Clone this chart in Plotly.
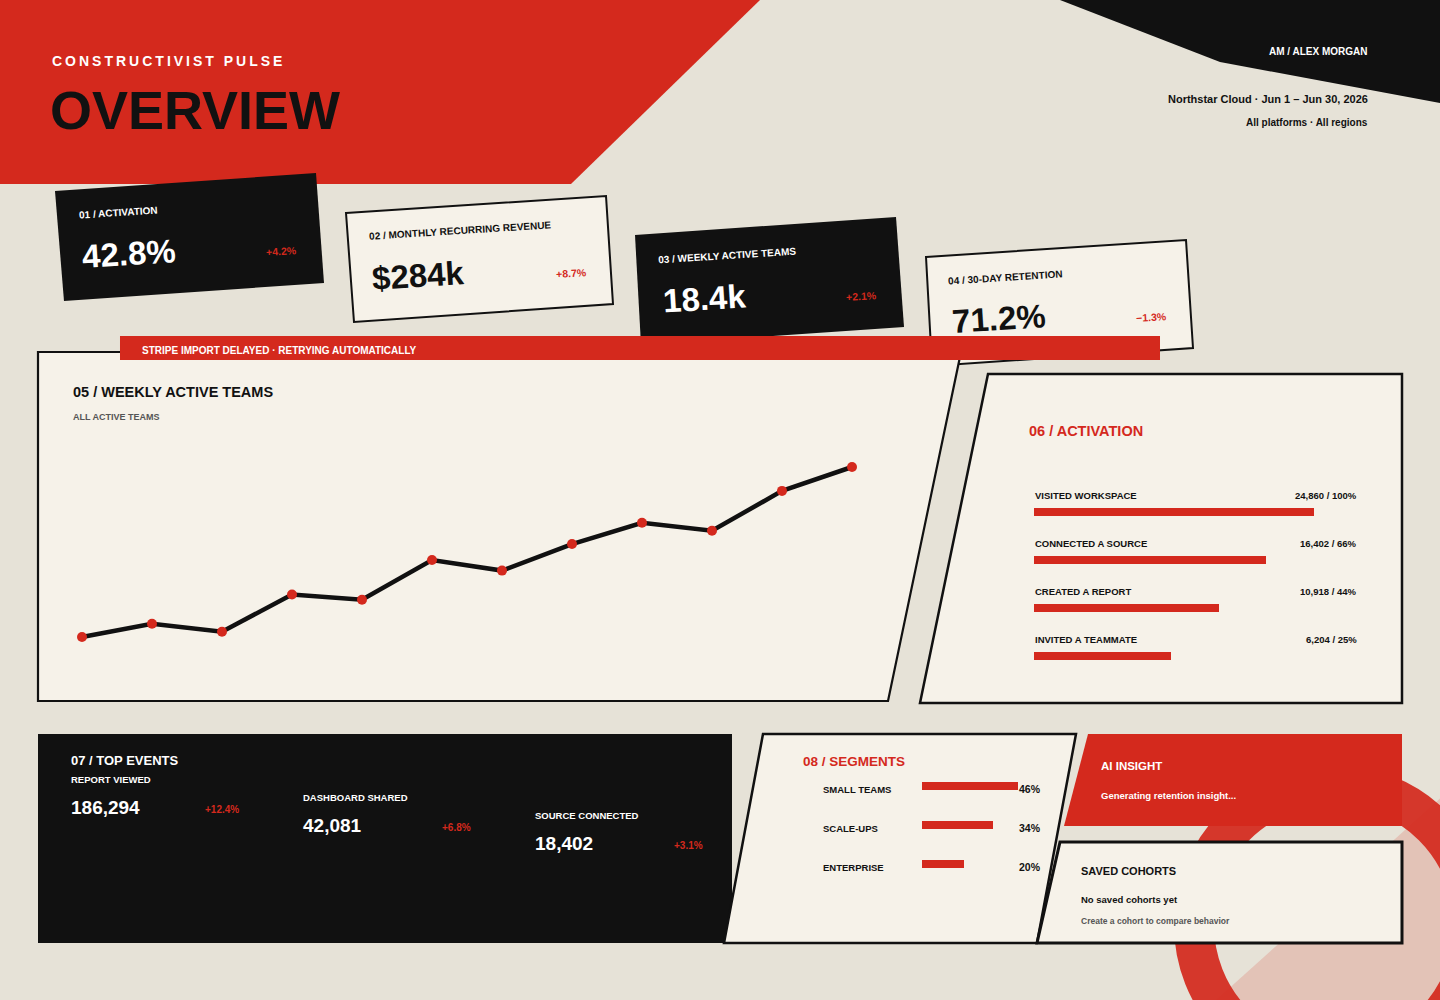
import plotly.graph_objects as go

# ---------------- data ----------------
weeks = ["W1", "W2", "W3", "W4", "W5", "W6", "W7", "W8", "W9", "W10", "W11", "W12"]
weekly_active_teams_k = [12.0, 12.5, 12.2, 13.6, 13.4, 14.9, 14.5, 15.5, 16.3, 16.0, 17.5, 18.4]

kpi_labels = ["01 / ACTIVATION", "02 / MONTHLY RECURRING REVENUE", "03 / WEEKLY ACTIVE TEAMS", "04 / 30-DAY RETENTION"]
kpi_values = ["42.8%", "$284k", "18.4k", "71.2%"]
kpi_deltas = ["+4.2%", "+8.7%", "+2.1%", "\u22121.3%"]

funnel_steps = ["VISITED WORKSPACE", "CONNECTED A SOURCE", "CREATED A REPORT", "INVITED A TEAMMATE"]
funnel_counts = ["24,860", "16,402", "10,918", "6,204"]
funnel_pcts = [100, 66, 44, 25]
funnel_bar_len = [100, 83, 66, 49]   # bar lengths as drawn (% of track)

event_names = ["REPORT VIEWED", "DASHBOARD SHARED", "SOURCE CONNECTED"]
event_counts = ["186,294", "42,081", "18,402"]
event_deltas = ["+12.4%", "+6.8%", "+3.1%"]

segments = ["SMALL TEAMS", "SCALE-UPS", "ENTERPRISE"]
segment_share = [46, 34, 20]

# ---------------- style ----------------
W, H = 1440, 1000
BG = "#E6E2D7"
CREAM = "#F6F2E9"
RED = "#D4291D"
BLACK = "#111111"
GRAY = "#555555"
FONT = "Liberation Sans, Arial, Helvetica, sans-serif"


def X(px):
    return px / W


def Y(py):
    return 1 - py / H


def poly(pts, fill, line_color=None, line_width=0, opacity=1):
    path = "M " + " L ".join(f"{X(x):.5f},{Y(y):.5f}" for x, y in pts) + " Z"
    return dict(type="path", path=path, xref="paper", yref="paper",
                fillcolor=fill, opacity=opacity, layer="below",
                line=dict(color=line_color or "rgba(0,0,0,0)", width=line_width))


def txt(x, y, s, size, color, anchor="left", angle=0, weight="bold"):
    return dict(x=X(x), y=Y(y), xref="paper", yref="paper", text=s, showarrow=False,
                xanchor=anchor, yanchor="middle", textangle=angle,
                font=dict(size=size, color=color, family=FONT, weight=weight))


shapes = []
ann = []

# decorative background: pink diagonal band + ring
shapes.append(poly([(1205, 1010), (1455, 785), (1700, 1000), (1450, 1250)], "rgba(212,42,30,0.17)"))
cx, cy, r_mid = 1334, 925, 140
shapes.append(dict(type="circle", xref="paper", yref="paper", layer="below",
                   x0=X(cx - r_mid), x1=X(cx + r_mid), y0=Y(cy + r_mid), y1=Y(cy - r_mid),
                   fillcolor="rgba(0,0,0,0)", opacity=0.92,
                   line=dict(color=RED, width=40)))

# header blocks
shapes.append(poly([(0, 0), (760, 0), (571, 184), (0, 184)], RED))
shapes.append(poly([(1060, 0), (1440, 0), (1440, 103), (1220, 62)], BLACK))

# KPI cards
cards = [
    dict(pts=[(55, 191), (316, 173), (324, 283), (64, 301)], dark=True,
         label=(77, 213), value=(79, 253), delta=(299, 251)),
    dict(pts=[(346, 213), (606, 196), (613, 304), (354, 322)], dark=False,
         label=(367, 231), value=(369, 275), delta=(589, 273)),
    dict(pts=[(635, 235), (896, 217), (904, 327), (641, 345)], dark=True,
         label=(656, 255), value=(660, 298), delta=(879, 296)),
    dict(pts=[(926, 257), (1186, 240), (1193, 348), (932, 366)], dark=False,
         label=(946, 277), value=(949, 318), delta=(1169, 317)),
]
for i, c in enumerate(cards):
    if c["dark"]:
        shapes.append(poly(c["pts"], BLACK))
        fg = "#FFFFFF"
    else:
        shapes.append(poly(c["pts"], CREAM, BLACK, 2))
        fg = BLACK
    ann.append(txt(*c["label"], kpi_labels[i], 10, fg, angle=-3.6))
    ann.append(txt(*c["value"], kpi_values[i], 33, fg, angle=-3.6))
    ann.append(txt(*c["delta"], kpi_deltas[i], 10.5, RED, anchor="right", angle=-3.6))

# main panels
shapes.append(poly([(38, 352), (961, 352), (888, 701), (38, 701)], CREAM, BLACK, 2.2))
shapes.append(poly([(988, 374), (1402, 374), (1402, 703), (920, 703)], CREAM, BLACK, 2.5))

# alert banner
shapes.append(poly([(120, 336), (1160, 336), (1160, 360), (120, 360)], RED))
ann.append(txt(140, 350, "STRIPE IMPORT DELAYED \u00b7 RETRYING AUTOMATICALLY", 10, "#FFFFFF"))

# bottom panels
shapes.append(poly([(38, 734), (732, 734), (732, 943), (38, 943)], BLACK))
shapes.append(poly([(763, 734), (1076, 734), (1037, 943), (724, 943)], CREAM, BLACK, 2.5))
shapes.append(poly([(1088, 734), (1402, 734), (1402, 826), (1064, 826)], RED))
shapes.append(poly([(1060, 842), (1402, 842), (1402, 943), (1037, 943)], CREAM, BLACK, 3))

# header text (letter-spaced title is widened symmetrically by the post script,
# so its anchor sits half the added spacing to the right)
ann.append(txt(80, 61, "CONSTRUCTIVIST PULSE", 14, "#FFFFFF"))
ann.append(txt(48, 110, "OVERVIEW", 54, BLACK, weight=900))
ann.append(txt(1370, 51, "AM / ALEX MORGAN", 10, "#FFFFFF", anchor="right"))
ann.append(txt(1370, 99, "Northstar Cloud \u00b7 Jun 1 \u2013 Jun 30, 2026", 11, BLACK, anchor="right"))
ann.append(txt(1370, 122, "All platforms \u00b7 All regions", 10, BLACK, anchor="right"))

# panel 05
ann.append(txt(71, 392, "05 / WEEKLY ACTIVE TEAMS", 14.5, BLACK))
ann.append(txt(71, 417, "ALL ACTIVE TEAMS", 9, GRAY))

# panel 06
ann.append(txt(1027, 431, "06 / ACTIVATION", 14.5, RED))
for i, step in enumerate(funnel_steps):
    yy = 495 + 48 * i
    ann.append(txt(1033, yy, step, 9.5, BLACK))
    ann.append(txt(1359, yy, f"{funnel_counts[i]} / {funnel_pcts[i]}%", 9.5, BLACK, anchor="right"))

# panel 07
ann.append(txt(69, 760, "07 / TOP EVENTS", 13, "#FFFFFF"))
for i, name in enumerate(event_names):
    x0 = 69 + 232 * i
    y0 = 779 + 18 * i
    ann.append(txt(x0, y0, name, 9.5, "#FFFFFF"))
    ann.append(txt(x0, y0 + 28, event_counts[i], 19, "#FFFFFF"))
    ann.append(txt(x0 + 172, y0 + 30, event_deltas[i], 10, RED, anchor="right"))

# panel 08
ann.append(txt(801, 761, "08 / SEGMENTS", 13.5, RED))
for i, seg in enumerate(segments):
    yy = 789 + 39 * i
    ann.append(txt(821, yy, seg, 9.5, BLACK))
    ann.append(txt(1043, yy, f"{segment_share[i]}%", 10.5, BLACK, anchor="right"))

# AI insight + saved cohorts
ann.append(txt(1099, 766, "AI INSIGHT", 11.5, "#FFFFFF"))
ann.append(txt(1099, 795, "Generating retention insight...", 9.5, "#FFFFFF"))
ann.append(txt(1079, 871, "SAVED COHORTS", 11, BLACK))
ann.append(txt(1079, 899, "No saved cohorts yet", 9.5, BLACK))
ann.append(txt(1079, 921, "Create a cohort to compare behavior", 8.5, GRAY))

# ---------------- traces ----------------
fig = go.Figure()

fig.add_trace(go.Scatter(
    x=list(range(len(weeks))), y=weekly_active_teams_k, customdata=weeks,
    mode="lines+markers",
    line=dict(color=BLACK, width=4.5),
    marker=dict(color=RED, size=10, line=dict(width=0)),
    xaxis="x", yaxis="y", hoverinfo="skip", showlegend=False))

fig.add_trace(go.Bar(
    x=funnel_bar_len, y=list(range(len(funnel_steps))), orientation="h",
    width=8 / 48, marker=dict(color=RED, line=dict(width=0)),
    xaxis="x2", yaxis="y2", hoverinfo="skip", showlegend=False))

fig.add_trace(go.Bar(
    x=segment_share, y=list(range(len(segments))), orientation="h",
    width=8 / 39, marker=dict(color=RED, line=dict(width=0)),
    xaxis="x3", yaxis="y3", hoverinfo="skip", showlegend=False))

hidden = dict(visible=False, showgrid=False, zeroline=False, fixedrange=True)

# line chart: index 0 at px 82, step 70 px; first value at py 637, last at py 467
px_per_step = 70
px_per_unit = 170 / (weekly_active_teams_k[-1] - weekly_active_teams_k[0])
lx0, lx1, ly_top, ly_bot = 60, 880, 440, 660
x_range = [(lx0 - 82) / px_per_step, (lx1 - 82) / px_per_step]
y_range = [weekly_active_teams_k[0] - (ly_bot - 637) / px_per_unit,
           weekly_active_teams_k[0] + (637 - ly_top) / px_per_unit]

fig.update_layout(
    width=W, height=H,
    margin=dict(l=0, r=0, t=0, b=0),
    paper_bgcolor=BG, plot_bgcolor="rgba(0,0,0,0)",
    shapes=shapes, annotations=ann,
    bargap=0,
    xaxis=dict(domain=[X(lx0), X(lx1)], range=x_range, **hidden),
    yaxis=dict(domain=[Y(ly_bot), Y(ly_top)], range=y_range, **hidden),
    xaxis2=dict(domain=[X(1034), X(1314)], range=[0, 100], anchor="y2", **hidden),
    yaxis2=dict(domain=[Y(680), Y(488)], range=[3.5, -0.5], anchor="x2", **hidden),
    xaxis3=dict(domain=[X(922), X(1131)], range=[0, 100], anchor="y3", **hidden),
    yaxis3=dict(domain=[Y(883.5), Y(766.5)], range=[2.5, -0.5], anchor="x3", **hidden),
    hovermode=False,
)

post = """
document.body.style.margin='0';
document.body.style.overflow='hidden';
document.querySelectorAll('.annotation-text').forEach(function(t){
  if (t.textContent === 'CONSTRUCTIVIST PULSE') { t.style.letterSpacing = '3px'; }
});
"""

fig.write_html("out.html", config={"displayModeBar": False, "staticPlot": True}, post_script=post)
